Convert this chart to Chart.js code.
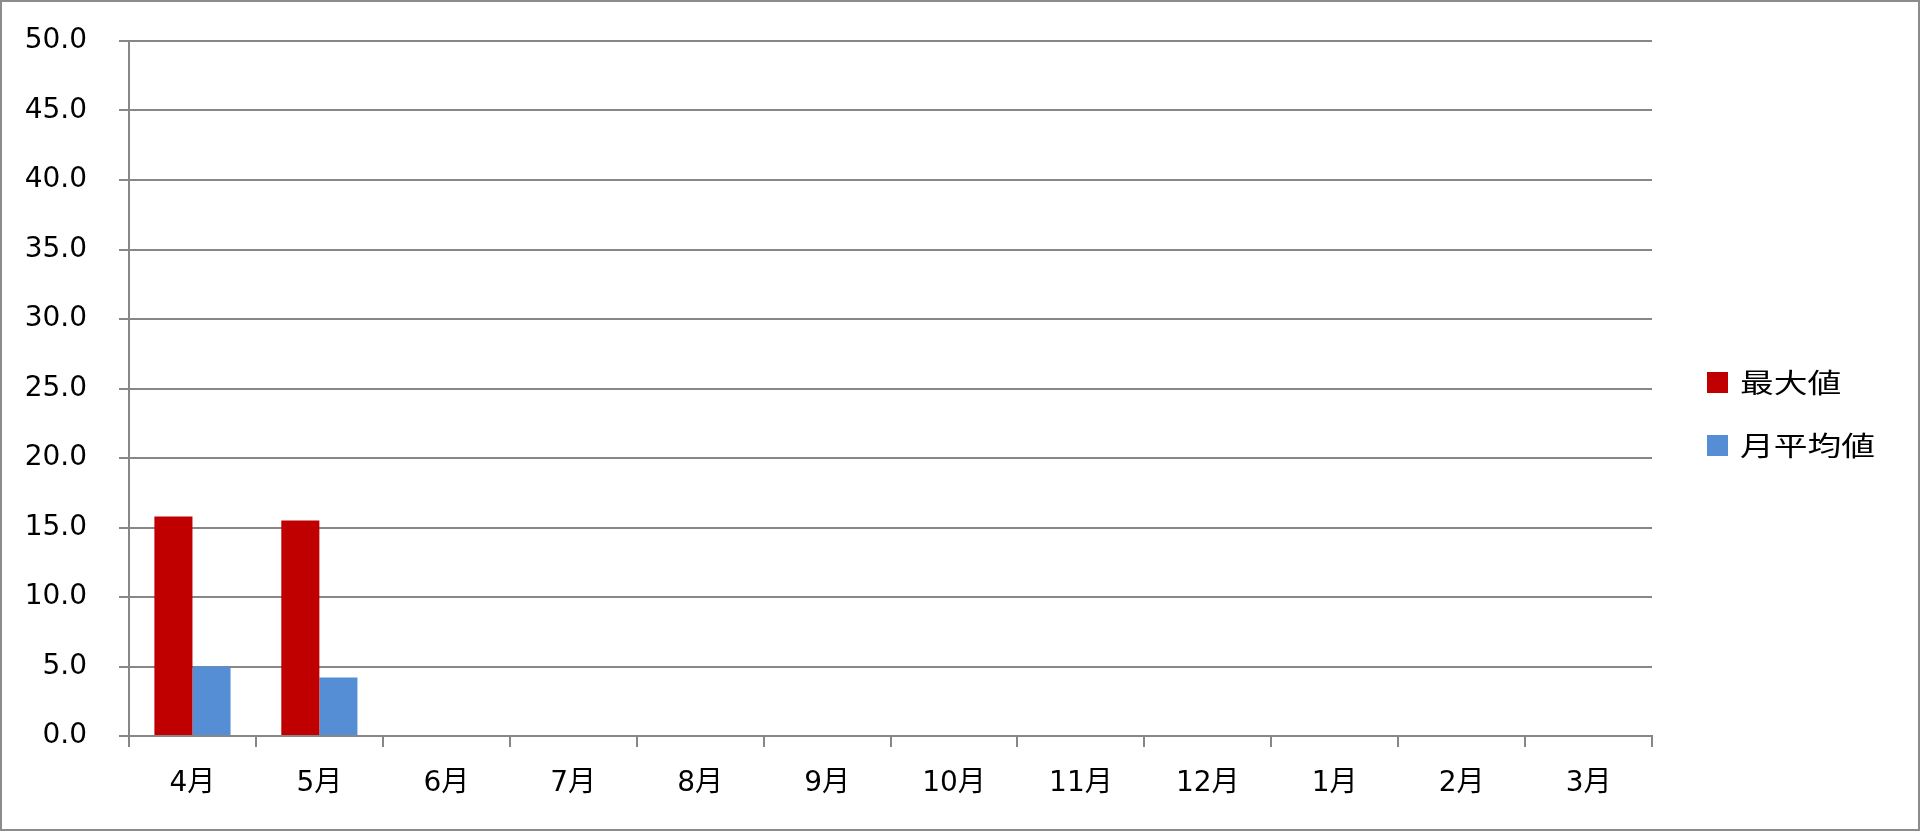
<!DOCTYPE html>
<html>
<head>
<meta charset="utf-8">
<script src="https://cdn.jsdelivr.net/npm/chart.js@4"></script>
<style>
  body { margin: 0; background: #fff; }
  #wrap {
    position: relative; width: 1920px; height: 831px;
    border: 2px solid #8c8c8c; box-sizing: border-box; background: #fff;
  }
  #legend { position: absolute; left: 1705px; top: 0; font-family: "Noto Sans CJK JP", sans-serif; }
  .item { position: absolute; left: 0; white-space: nowrap; }
  .box { position: absolute; left: 0; width: 21px; height: 21px; }
  .lbl { position: absolute; left: 33px; font-size: 27px; line-height: 30px; color: #000;
         transform: scaleX(1.25); transform-origin: left center; }
</style>
</head>
<body>
<div id="wrap">
  <canvas id="chart"></canvas>
  <div id="legend"></div>
</div>
<script>
/*_____________________DATA____________________*/

const months = ['4月', '5月', '6月', '7月', '8月', '9月', '10月', '11月', '12月', '1月', '2月', '3月'];
const maxValues = [15.8, 15.5, null, null, null, null, null, null, null, null, null, null];
const avgValues = [5.0, 4.2, null, null, null, null, null, null, null, null, null, null];
const seriesNames = ['最大値', '月平均値'];
const seriesColors = ['#C00000', '#558ED5'];

const gridColor = '#878787';
const fontFamily = '"DejaVu Sans", "Noto Sans CJK JP", sans-serif';

/*_____________________CHART____________________*/

const ctx = document.getElementById('chart');
new Chart(ctx, {
  type: 'bar',
  data: {
    labels: months,
    datasets: [
      { label: seriesNames[0], data: maxValues, backgroundColor: seriesColors[0] },
      { label: seriesNames[1], data: avgValues, backgroundColor: seriesColors[1] }
    ]
  },
  options: {
    responsive: true,
    maintainAspectRatio: false,
    animation: false,
    devicePixelRatio: 1,
    categoryPercentage: 0.6,
    barPercentage: 1.0,
    layout: { padding: { left: 0, right: 266, top: 39, bottom: 0 } },
    plugins: { legend: { display: false }, tooltip: { enabled: false } },
    scales: {
      x: {
        grid: { offset: true, drawOnChartArea: false, color: gridColor, lineWidth: 2, tickLength: 11 },
        border: { color: gridColor, width: 2 },
        ticks: { color: '#000', font: { family: fontFamily, size: 28 }, padding: 20 },
        afterFit: s => { s.height = 93; }
      },
      y: {
        min: 0, max: 50,
        grid: { color: gridColor, lineWidth: 2, tickLength: 10 },
        border: { color: gridColor, width: 2 },
        // small lineHeight keeps the label padding from pushing the plot top down
        ticks: { stepSize: 5, color: '#000', font: { family: fontFamily, size: 28, lineHeight: 0.3 },
                 padding: 32, callback: v => v.toFixed(1) },
        afterFit: s => { s.width = 127; }
      }
    }
  }
});

/*_____________________LEGEND____________________*/

const legend = document.getElementById('legend');
const legendTops = [370, 433];
seriesNames.forEach((name, i) => {
  const item = document.createElement('div');
  item.className = 'item';
  item.style.top = legendTops[i] + 'px';
  item.innerHTML = '<div class="box" style="background:' + seriesColors[i] + '"></div>' +
                   '<div class="lbl" style="top:-5px">' + name + '</div>';
  legend.appendChild(item);
});
</script>
</body>
</html>
